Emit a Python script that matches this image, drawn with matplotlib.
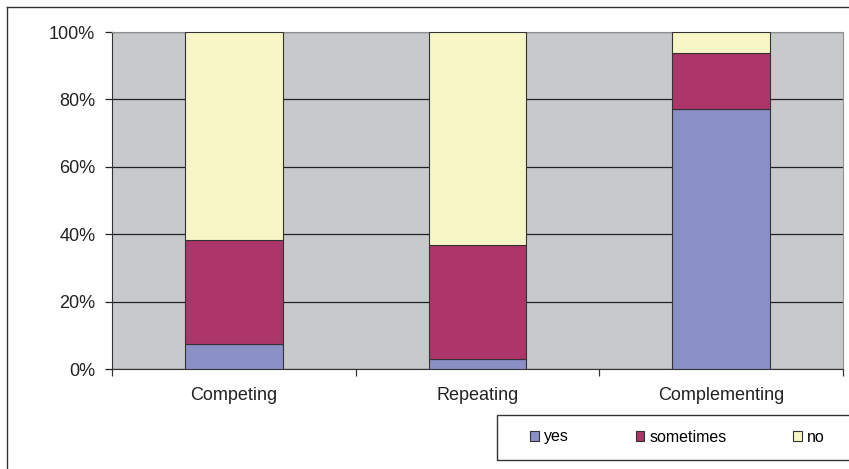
import matplotlib.pyplot as plt
from matplotlib.lines import Line2D
from matplotlib.patches import Rectangle

plt.rcParams['font.family'] = ['Liberation Sans', 'DejaVu Sans']

categories = ['Competing', 'Repeating', 'Complementing']
yes = [7.3, 3.1, 77.1]
sometimes = [30.9, 33.7, 16.6]
no = [61.8, 63.2, 6.3]

colors = {'yes': '#8a8fc6', 'sometimes': '#ac366a', 'no': '#f8f6c6'}

fig = plt.figure(figsize=(8.49, 4.69), dpi=100)
ax = fig.add_axes([112/849, 1-369/469, 731/849, 337/469])
ax.set_facecolor('#c8c9cb')

x = range(len(categories))
bottom2 = [a + b for a, b in zip(yes, sometimes)]
ax.bar(x, yes, width=0.4, color=colors['yes'], edgecolor='#333333', linewidth=0.8, label='yes', zorder=3)
ax.bar(x, sometimes, width=0.4, bottom=yes, color=colors['sometimes'], edgecolor='#333333', linewidth=0.8, label='sometimes', zorder=3)
ax.bar(x, no, width=0.4, bottom=bottom2, color=colors['no'], edgecolor='#333333', linewidth=0.8, label='no', zorder=3)

ax.set_xlim(-0.5, 2.5)
ax.set_ylim(0, 100)
ax.set_yticks([0, 20, 40, 60, 80, 100])
ax.set_yticklabels(['0%', '20%', '40%', '60%', '80%', '100%'])
ax.yaxis.grid(True, color='#222222', linewidth=0.9, zorder=1)
ax.set_axisbelow(True)
ax.set_xticks(list(x))
ax.set_xticklabels(categories)
ax.set_xticks([-0.5, 0.5, 1.5, 2.5], minor=True)
ax.tick_params(axis='x', which='major', length=0, pad=13, labelsize=13, colors='#222222')
ax.tick_params(axis='x', which='minor', length=5, width=0.9, color='#333333')
ax.tick_params(axis='y', length=5, width=0.9, pad=7, labelsize=13, colors='#222222')
for s in ['top', 'right']:
    ax.spines[s].set_color('#909090')
for s in ['left', 'bottom']:
    ax.spines[s].set_color('#333333')

# outer chart frame
fig.add_artist(Line2D([7/849, 7/849], [0, 1-7/469], color='#333333', linewidth=1))
fig.add_artist(Line2D([7/849, 1], [1-7/469, 1-7/469], color='#333333', linewidth=1))

# legend box
fig.add_artist(Rectangle((497/849, 1-460/469), 360/849, 45/469, fill=False,
                         edgecolor='#333333', linewidth=1, transform=fig.transFigure))
handles, labels = ax.get_legend_handles_labels()
fig.legend(handles, labels, ncol=3, frameon=False, loc='center left',
           bbox_to_anchor=(522/849, 1-437/469), fontsize=11.5,
           handlelength=0.55, handleheight=0.55, handletextpad=0.3,
           columnspacing=4.2, borderpad=0)

fig.savefig('out.png', dpi=100)
